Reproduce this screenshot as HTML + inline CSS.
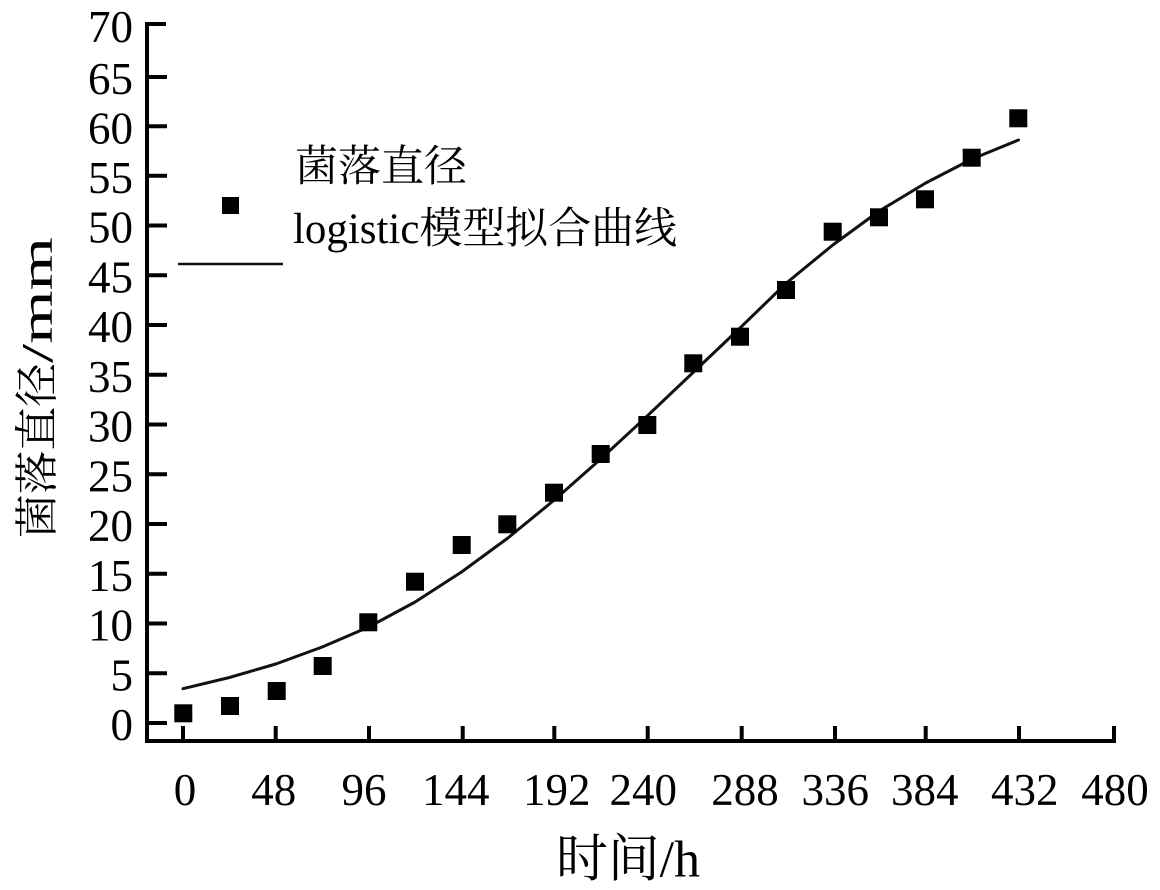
<!DOCTYPE html>
<html>
<head>
<meta charset="utf-8">
<style>
  html, body { margin: 0; padding: 0; background: #fff; }
  svg { display: block; }
  text { font-family: "Liberation Serif", "Noto Serif CJK SC", serif; fill: #000; }
</style>
</head>
<body>
<svg width="1160" height="890" viewBox="0 0 1160 890" xmlns="http://www.w3.org/2000/svg">
  <rect width="1160" height="890" fill="#fff"/>

  <!-- Axes -->
  <line x1="147" y1="22" x2="147" y2="743" stroke="#000" stroke-width="4"/>
  <line x1="145" y1="741" x2="1116" y2="741" stroke="#000" stroke-width="4"/>

  <!-- Y ticks -->
  <g stroke="#000" stroke-width="4">
    <line x1="147" y1="723" x2="167" y2="723"/>
    <line x1="147" y1="673.3" x2="167" y2="673.3"/>
    <line x1="147" y1="623.5" x2="167" y2="623.5"/>
    <line x1="147" y1="573.8" x2="167" y2="573.8"/>
    <line x1="147" y1="524" x2="167" y2="524"/>
    <line x1="147" y1="474.3" x2="167" y2="474.3"/>
    <line x1="147" y1="424.5" x2="167" y2="424.5"/>
    <line x1="147" y1="374.8" x2="167" y2="374.8"/>
    <line x1="147" y1="325" x2="167" y2="325"/>
    <line x1="147" y1="275.3" x2="167" y2="275.3"/>
    <line x1="147" y1="225.5" x2="167" y2="225.5"/>
    <line x1="147" y1="175.8" x2="167" y2="175.8"/>
    <line x1="147" y1="126.3" x2="167" y2="126.3"/>
    <line x1="147" y1="77" x2="167" y2="77"/>
    <line x1="145" y1="24" x2="166" y2="24"/>
  </g>

  <!-- Y tick labels -->
  <g font-size="45" text-anchor="end">
    <text x="133" y="740">0</text>
    <text x="133" y="690.3">5</text>
    <text x="133" y="640.5">10</text>
    <text x="133" y="590.8">15</text>
    <text x="133" y="541">20</text>
    <text x="133" y="491.3">25</text>
    <text x="133" y="441.5">30</text>
    <text x="133" y="391.8">35</text>
    <text x="133" y="342">40</text>
    <text x="133" y="292.3">45</text>
    <text x="133" y="242.5">50</text>
    <text x="133" y="192.8">55</text>
    <text x="133" y="143.3">60</text>
    <text x="133" y="94">65</text>
    <text x="133" y="42">70</text>
  </g>

  <!-- X ticks -->
  <g stroke="#000" stroke-width="4">
    <line x1="183" y1="741" x2="183" y2="726"/>
    <line x1="275.7" y1="741" x2="275.7" y2="726"/>
    <line x1="369" y1="741" x2="369" y2="726"/>
    <line x1="462.7" y1="741" x2="462.7" y2="726"/>
    <line x1="554.3" y1="741" x2="554.3" y2="726"/>
    <line x1="647.7" y1="741" x2="647.7" y2="726"/>
    <line x1="741.7" y1="741" x2="741.7" y2="726"/>
    <line x1="835" y1="741" x2="835" y2="726"/>
    <line x1="925.7" y1="741" x2="925.7" y2="726"/>
    <line x1="1019" y1="741" x2="1019" y2="726"/>
    <line x1="1114" y1="743" x2="1114" y2="726"/>
  </g>

  <!-- X tick labels -->
  <g font-size="45" text-anchor="middle">
    <text x="185" y="805">0</text>
    <text x="273.7" y="805">48</text>
    <text x="364" y="805">96</text>
    <text x="455.8" y="805">144</text>
    <text x="556.7" y="805">192</text>
    <text x="643.3" y="805">240</text>
    <text x="745" y="805">288</text>
    <text x="835.3" y="805">336</text>
    <text x="924.7" y="805">384</text>
    <text x="1024.7" y="805">432</text>
    <text x="1115" y="805">480</text>
  </g>

  <!-- Axis titles -->
  <text x="556" y="877" font-size="46" textLength="144" lengthAdjust="spacingAndGlyphs" transform="translate(0,-110) scale(1,1.125)">时间/h</text>

  <g transform="translate(52,538) rotate(-90)">
    <text x="0" y="0" font-size="44" textLength="175" lengthAdjust="spacingAndGlyphs">菌落直径</text>
    <text x="175" y="0" font-size="44" textLength="126" lengthAdjust="spacingAndGlyphs">/mm</text>
  </g>

  <!-- Fitted logistic curve -->
  <polyline fill="none" stroke="#111" stroke-width="3" stroke-linejoin="round" stroke-linecap="round"
    points="183,688.7 229.4,677.5 275.8,664 322.2,647 368.7,627 415.1,602 461.5,572 507.9,538 554.3,500 600.7,459 647.2,416 693.6,372 740,328 786.4,283 832.8,245 879.2,211 925.7,183 972.1,159 1018.5,140"/>

  <!-- Data squares -->
  <g fill="#000">
    <rect x="174.3" y="704.3" width="18" height="18"/>
    <rect x="221" y="697" width="18" height="18"/>
    <rect x="267.7" y="682" width="18" height="18"/>
    <rect x="313.7" y="657" width="18" height="18"/>
    <rect x="359.3" y="613.3" width="18" height="18"/>
    <rect x="406" y="572.7" width="18" height="18"/>
    <rect x="452.7" y="536" width="18" height="18"/>
    <rect x="498.3" y="515.3" width="18" height="18"/>
    <rect x="545" y="483.7" width="18" height="18"/>
    <rect x="591.7" y="445" width="18" height="18"/>
    <rect x="638.3" y="416" width="18" height="18"/>
    <rect x="684.3" y="354.3" width="18" height="18"/>
    <rect x="731" y="327.7" width="18" height="18"/>
    <rect x="777" y="281" width="18" height="18"/>
    <rect x="823.7" y="222.7" width="18" height="18"/>
    <rect x="870" y="208.3" width="18" height="18"/>
    <rect x="916" y="190.3" width="18" height="18"/>
    <rect x="962.7" y="148.7" width="18" height="18"/>
    <rect x="1009.3" y="109.3" width="18" height="18"/>
  </g>

  <!-- Legend -->
  <text x="295" y="181" font-size="43" textLength="172" lengthAdjust="spacingAndGlyphs">菌落直径</text>
  <rect x="222" y="197" width="17" height="17" fill="#000"/>
  <text x="293" y="243" font-size="43" textLength="384" lengthAdjust="spacingAndGlyphs">logistic模型拟合曲线</text>
  <line x1="178" y1="264" x2="283" y2="264" stroke="#111" stroke-width="2.5"/>
</svg>
</body>
</html>
